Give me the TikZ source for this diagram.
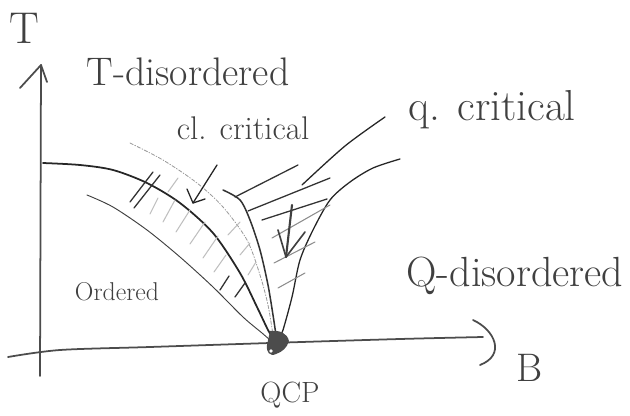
\documentclass[tikz,border=0pt]{standalone}
\begin{document}
\begin{tikzpicture}[x=0.03cm,y=-0.03cm,line cap=round,line join=round]
\tikzset{
 axis/.style={draw=black!70,line width=1.5pt},
 mainline/.style={draw=black!85,line width=1.5pt},
 thinline/.style={draw=black!75,line width=0.8pt},
 faint/.style={draw=black!40,line width=0.7pt,dash pattern=on 3pt off 1.5pt on 0.8pt off 1.5pt},
 hatch/.style={draw=black!80,line width=1.1pt},
 lhatch/.style={draw=black!25,line width=0.9pt},
 lab/.style={text=black!75,inner sep=0pt},
}
\useasboundingbox (0,0) rectangle (630,416);
% axes
\coordinate (ytop) at (41,65);
\coordinate (ybot) at (40,376);
\draw[axis] (ybot) -- (ytop);
\draw[axis] (20,88) -- (ytop) -- (47,82);
\coordinate (xl) at (8,357);
\coordinate (xr) at (483,337);
\draw[axis] plot[smooth] coordinates {(xl) (60,350) (150,347) (270,343) (400,339) (xr)};
\draw[axis] (473,320) .. controls (495,330) and (506,355) .. (480,365);
% regions
\draw[mainline] plot[smooth] coordinates {(43,163) (80,165) (113,170) (147,183) (180,203) (213,233) (240,273) (257,307) (268,330) (273,338)};
\draw[thinline] plot[smooth] coordinates {(87,195) (113,207) (147,230) (180,257) (213,287) (243,317) (262,333) (270,340)};
\draw[faint] plot[smooth] coordinates {(130,143) (163,160) (197,183) (223,207) (247,240) (260,275) (268,305) (273,335)};
\draw[draw=black!80,line width=1.3pt] plot[smooth] coordinates {(223,190) (240,200) (250,220) (260,250) (268,285) (273,315) (276,335)};
\draw[draw=black!85,line width=1.1pt] plot[smooth] coordinates {(400,159) (373,168) (350,182) (330,200) (313,230) (300,260) (292,297) (283,330) (279,338)};
% hatching classical
\draw[hatch] (130,202) -- (153,172);
\draw[hatch] (134,208) -- (160,175);
\draw[hatch] (220,290) -- (229,276);
\draw[hatch] (235,297) -- (245,283);
\foreach \a/\b/\c/\d in {150/214/158/198, 163/222/175/200, 176/232/190/210, 190/244/205/222, 203/258/218/236, 214/272/226/255, 168/192/178/178, 228/235/240/222, 240/255/250/243, 248/275/256/262}
  \draw[lhatch] (\a,\b) -- (\c,\d);
% hatching quantum
\draw[hatch] (235,197) -- (298,165);
\draw[hatch] (248,211) -- (330,178);
\draw[hatch] (262,220) -- (327,199);
\draw[lhatch,draw=black!45] (272,238) -- (330,205);
\draw[lhatch,draw=black!45] (274,263) -- (315,242);
\draw[lhatch,draw=black!45] (278,288) -- (305,273);
% pointer lines / arrows
\draw[draw=black!85,line width=1.1pt] plot[smooth] coordinates {(385,117) (345,146) (302,185)};
\draw[draw=black!75,line width=1.8pt] (292,205) -- (286,257);
\draw[draw=black!75,line width=1.4pt] (278,230) -- (286,257) -- (305,232);
\draw[draw=black!85,line width=1.1pt] (217,165) -- (193,203);
\draw[draw=black!85,line width=1.1pt] (187,189) -- (193,203) -- (205,199);
% QCP blob
\fill[black!70] (270,331) .. controls (280,330) and (287,333) .. (289,341) .. controls (287,348) and (282,352) .. (276,354) .. controls (270,357) and (266,352) .. (267,345) -- cycle;
\fill[white] (271,351) circle[radius=1.8];
\coordinate (qcp) at (277,342);
% labels
\node[lab,font=\fontsize{38}{38}\selectfont] (tlab) at (24,28) {T};
\node[lab,font=\fontsize{34}{34}\selectfont] (tdis) at (188,72) {T-disordered};
\node[lab,font=\fontsize{28}{28}\selectfont] (clcrit) at (243,128) {cl. critical};
\node[lab,font=\fontsize{37}{37}\selectfont] (qcrit) at (492,110) {q. critical};
\node[lab,font=\fontsize{22}{22}\selectfont] (ord) at (117,292) {Ordered};
\node[lab,font=\fontsize{36}{36}\selectfont] (qdis) at (515,276) {Q-disordered};
\node[lab,font=\fontsize{25}{25}\selectfont] (qcplab) at (290,395) {QCP};
\node[lab,font=\fontsize{34}{34}\selectfont] (blab) at (530,368) {B};
\end{tikzpicture}
\end{document}
